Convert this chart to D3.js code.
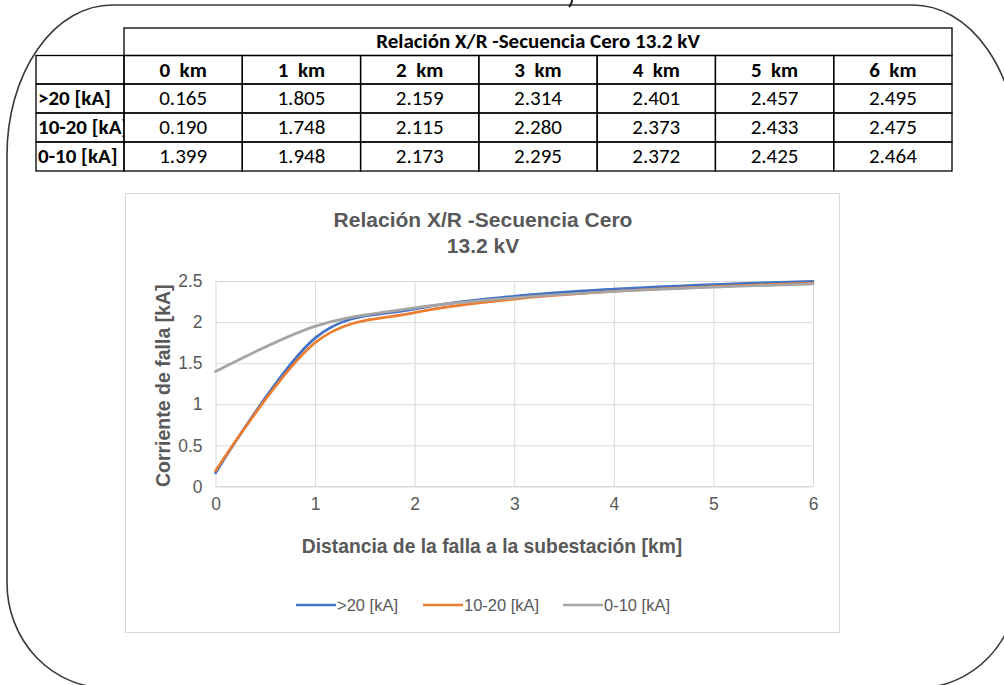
<!DOCTYPE html>
<html>
<head>
<meta charset="utf-8">
<style>
  body { margin: 0; background: #fff; }
  svg { display: block; }
</style>
</head>
<body>
<svg width="1004" height="685"></svg>
<script src="https://d3js.org/d3.v7.min.js"></script>
<script>

// data
var distances = [0, 1, 2, 3, 4, 5, 6];
var colLabels = ["0  km", "1  km", "2  km", "3  km", "4  km", "5  km", "6  km"];
var seriesNames = [">20 [kA]", "10-20 [kA]", "0-10 [kA]"];
var over20 = [0.165, 1.805, 2.159, 2.314, 2.401, 2.457, 2.495];
var from10to20 = [0.190, 1.748, 2.115, 2.280, 2.373, 2.433, 2.475];
var from0to10 = [1.399, 1.948, 2.173, 2.295, 2.372, 2.425, 2.464];
var yTicks = [0, 0.5, 1, 1.5, 2, 2.5];
var xTicks = [0, 1, 2, 3, 4, 5, 6];
var colors = ["#4472c4", "#ed7d31", "#a5a5a5"];

var tableTitle = "Relación X/R -Secuencia Cero 13.2 kV";
var chartTitle = ["Relación X/R -Secuencia Cero", "13.2 kV"];
var xTitle = "Distancia de la falla a la subestación [km]";
var yTitle = "Corriente de falla [kA]";

var series = [over20, from10to20, from0to10].map(function(vals, i) {
  return {
    name: seriesNames[i],
    color: colors[i],
    values: vals.map(function(v, j) { return {km: distances[j], ka: v}; })
  };
});

var svg = d3.select("svg");

// rounded outer frame (partly cut by the picture edge)
var fx0 = 7, fx1 = 1018, fy0 = 5, fy1 = 688,
    trx = 105, try_ = 150, brx = 100, bry = 105;
svg.append("path")
    .attr("d",
      "M" + (fx0 + trx) + "," + fy0 +
      " L" + (fx1 - trx) + "," + fy0 +
      " A" + trx + "," + try_ + " 0 0 1 " + fx1 + "," + (fy0 + try_) +
      " L" + fx1 + "," + (fy1 - bry) +
      " A" + brx + "," + bry + " 0 0 1 " + (fx1 - brx) + "," + fy1 +
      " L" + (fx0 + brx) + "," + fy1 +
      " A" + brx + "," + bry + " 0 0 1 " + fx0 + "," + (fy1 - bry) +
      " L" + fx0 + "," + (fy0 + try_) +
      " A" + trx + "," + try_ + " 0 0 1 " + (fx0 + trx) + "," + fy0 + " Z")
    .attr("fill", "none")
    .attr("stroke", "#3a3a3a")
    .attr("stroke-width", 1.6);

// tail of a glyph cut off above the frame
svg.append("path")
    .attr("d", "M572,0 Q572,4 569,7")
    .attr("fill", "none")
    .attr("stroke", "#222")
    .attr("stroke-width", 2);

// ---------- table ----------
var tableFont = "Carlito, Calibri, 'Liberation Sans Narrow', sans-serif";
var tableSize = 21;
var labelW = 88, tLeft = 36, tColX = 124, colW = (952 - 124) / 7;
var rowY = [28, 55.5, 84, 113, 142, 171];

var table = svg.append("g");

function cell(x, y, w, h) {
  table.append("rect")
      .attr("x", x).attr("y", y)
      .attr("width", w).attr("height", h)
      .attr("fill", "none")
      .attr("stroke", "#000")
      .attr("stroke-width", 1.3);
}

// title row
cell(tColX, rowY[0], colW * 7, rowY[1] - rowY[0]);
table.append("text")
    .attr("x", tColX + colW * 3.5)
    .attr("y", rowY[0] + 20)
    .attr("text-anchor", "middle")
    .attr("font-family", tableFont)
    .attr("font-weight", "bold")
    .attr("font-size", tableSize)
    .text(tableTitle);

// header + body rows
var rows = [[""].concat(colLabels)].concat(series.map(function(s) {
  return [s.name].concat(s.values.map(function(d) { return d.ka.toFixed(3); }));
}));

svg.append("clipPath").attr("id", "labelclip")
  .append("rect").attr("x", tLeft).attr("y", rowY[1]).attr("width", labelW).attr("height", rowY[5] - rowY[1]);

rows.forEach(function(r, ri) {
  var y0 = rowY[ri + 1], h = rowY[ri + 2] - y0;
  cell(tLeft, y0, labelW, h);
  table.append("text")
      .attr("x", tLeft + 2)
      .attr("y", y0 + 21)
      .attr("clip-path", "url(#labelclip)")
      .attr("font-family", tableFont)
      .attr("font-weight", "bold")
      .attr("font-size", tableSize)
      .text(r[0]);
  r.slice(1).forEach(function(v, ci) {
    var x0 = tColX + ci * colW;
    cell(x0, y0, colW, h);
    table.append("text")
        .attr("x", x0 + colW / 2)
        .attr("y", y0 + 21)
        .attr("text-anchor", "middle")
        .attr("font-family", tableFont)
        .attr("font-weight", ri === 0 ? "bold" : "normal")
        .attr("font-size", tableSize)
        .style("white-space", "pre")
        .text(v);
  });
});

// ---------- chart ----------
var chartFont = "'Liberation Sans', Arial, sans-serif";
var textGray = "#595959", gridGray = "#d9d9d9";

svg.append("rect")
    .attr("x", 125.5).attr("y", 193.5)
    .attr("width", 714).attr("height", 439)
    .attr("fill", "#fff")
    .attr("stroke", gridGray)
    .attr("stroke-width", 1);

var x = d3.scaleLinear().domain([0, 6]).range([215.5, 813]);
var y = d3.scaleLinear().domain([0, 2.5]).range([486.5, 281]);

// horizontal gridlines + y labels
var yAxis = svg.append("g")
    .attr("transform", "translate(" + x(0) + ",0)")
    .call(d3.axisLeft(y).tickValues(yTicks).tickFormat(d3.format(""))
      .tickSize(-(x(6) - x(0))).tickPadding(13));
yAxis.select(".domain").remove();
yAxis.selectAll("line").attr("stroke", gridGray);
yAxis.selectAll("text")
    .attr("fill", textGray)
    .attr("font-family", chartFont)
    .attr("font-size", 17.5);

// vertical gridlines + x labels
var xAxis = svg.append("g")
    .attr("transform", "translate(0," + y(0) + ")")
    .call(d3.axisBottom(x).tickValues(xTicks).tickFormat(d3.format("d"))
      .tickSize(-(y(0) - y(2.5))).tickPadding(11));
xAxis.select(".domain").remove();
xAxis.selectAll("line").attr("stroke", gridGray);
xAxis.selectAll("text")
    .attr("fill", textGray)
    .attr("font-family", chartFont)
    .attr("font-size", 17.5);

// x axis line
svg.append("line")
    .attr("x1", x(0)).attr("x2", x(6))
    .attr("y1", y(0)).attr("y2", y(0))
    .attr("stroke", gridGray);

var line = d3.line()
    .curve(d3.curveCatmullRom.alpha(0))
    .x(function(d) { return x(d.km); })
    .y(function(d) { return y(d.ka); });

svg.append("g")
  .selectAll("path")
  .data(series)
  .join("path")
    .attr("fill", "none")
    .attr("stroke", function(d) { return d.color; })
    .attr("stroke-width", 2.7)
    .attr("stroke-linecap", "round")
    .attr("stroke-linejoin", "round")
    .attr("d", function(d) { return line(d.values); });

// titles
svg.append("text")
    .attr("x", 483).attr("y", 227)
    .attr("text-anchor", "middle")
    .attr("font-family", chartFont)
    .attr("font-weight", "bold")
    .attr("font-size", 21)
    .attr("fill", textGray)
    .selectAll("tspan")
    .data(chartTitle)
    .join("tspan")
      .attr("x", 483)
      .attr("dy", function(d, i) { return i ? 26 : 0; })
      .text(function(d) { return d; });

svg.append("text")
    .attr("x", 492).attr("y", 553)
    .attr("text-anchor", "middle")
    .attr("font-family", chartFont)
    .attr("font-weight", "bold")
    .attr("font-size", 19.3)
    .attr("fill", textGray)
    .text(xTitle);

svg.append("text")
    .attr("transform", "translate(170," + ((y(0) + y(2.5)) / 2 + 2) + ") rotate(-90)")
    .attr("text-anchor", "middle")
    .attr("font-family", chartFont)
    .attr("font-weight", "bold")
    .attr("font-size", 19.5)
    .attr("fill", textGray)
    .text(yTitle);

// legend
var legendX = [296, 423, 563];
var legend = svg.append("g")
  .selectAll("g")
  .data(series)
  .join("g")
    .attr("transform", function(d, i) { return "translate(" + legendX[i] + ",605)"; });
legend.append("line")
    .attr("x1", 0).attr("x2", 40)
    .attr("stroke", function(d) { return d.color; })
    .attr("stroke-width", 2.7);
legend.append("text")
    .attr("x", 41).attr("y", 6)
    .attr("font-family", chartFont)
    .attr("font-size", 16.5)
    .attr("fill", textGray)
    .text(function(d) { return d.name; });

</script>
</body>
</html>
